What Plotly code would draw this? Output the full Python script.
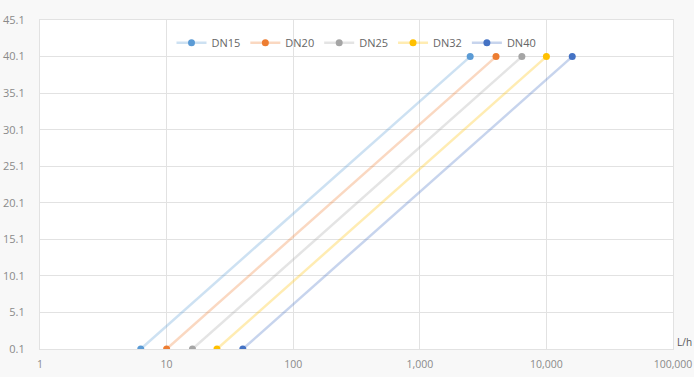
import plotly.graph_objects as go

series_names = ["DN15", "DN20", "DN25", "DN32", "DN40"]
flow_low = [6.25, 10, 16, 25, 40]
flow_high = [2500, 4000, 6400, 10000, 16000]
pressure = [0.1, 40.1]
marker_colors = ["#5B9BD5", "#ED7D31", "#A5A5A5", "#FFC000", "#4472C4"]
line_colors = ["rgba(91,155,213,0.3)", "rgba(237,125,49,0.3)", "rgba(165,165,165,0.3)",
               "rgba(255,192,0,0.3)", "rgba(68,114,196,0.3)"]
x_ticks = [1, 10, 100, 1000, 10000, 100000]
x_tick_text = ["1", "10", "100", "1,000", "10,000", "100,000"]
y_ticks = [0.1, 5.1, 10.1, 15.1, 20.1, 25.1, 30.1, 35.1, 40.1, 45.1]

fig = go.Figure()
for name, lo, hi, mc, lc in zip(series_names, flow_low, flow_high, marker_colors, line_colors):
    fig.add_trace(go.Scatter(
        x=[lo, hi], y=pressure, name=name, mode="lines+markers",
        line=dict(color=lc, width=2.5),
        marker=dict(color=mc, size=7),
    ))

fig.update_layout(
    width=694, height=377,
    margin=dict(l=40, r=21, t=20, b=28, autoexpand=False),
    paper_bgcolor="#f8f8f8",
    plot_bgcolor="white",
    font=dict(family="Open Sans, sans-serif", color="#8a8a8a", size=11),
    legend=dict(orientation="h", x=0.5, xanchor="center", y=0.975, yanchor="top",
                bgcolor="rgba(0,0,0,0)", font=dict(size=11, color="#666666"),
                itemwidth=30),
    showlegend=True,
)
fig.update_xaxes(type="log", range=[0, 5], tickvals=x_ticks, ticktext=x_tick_text,
                 automargin=False,
                 showgrid=True, gridcolor="#e2e2e2", gridwidth=1,
                 showline=True, linecolor="#e2e2e2", mirror=True,
                 zeroline=False, ticks="", ticklabelstandoff=5,
                 tickfont=dict(size=10.5))
fig.update_yaxes(range=[0.1, 45.1], tickvals=y_ticks, ticktext=[str(v) for v in y_ticks],
                 automargin=False,
                 showgrid=True, gridcolor="#e2e2e2", gridwidth=1,
                 showline=True, linecolor="#e2e2e2", mirror=True,
                 zeroline=False, ticks="", ticklabelstandoff=12,
                 tickfont=dict(size=11))
fig.add_annotation(text="L/h", xref="paper", yref="paper", x=1, y=0,
                   xanchor="left", yanchor="bottom", xshift=2, yshift=-2,
                   showarrow=False, font=dict(size=10, color="#555555"))

fig.write_html("out.html", config={"displayModeBar": False},
               post_script="document.body.style.margin='0px';")
